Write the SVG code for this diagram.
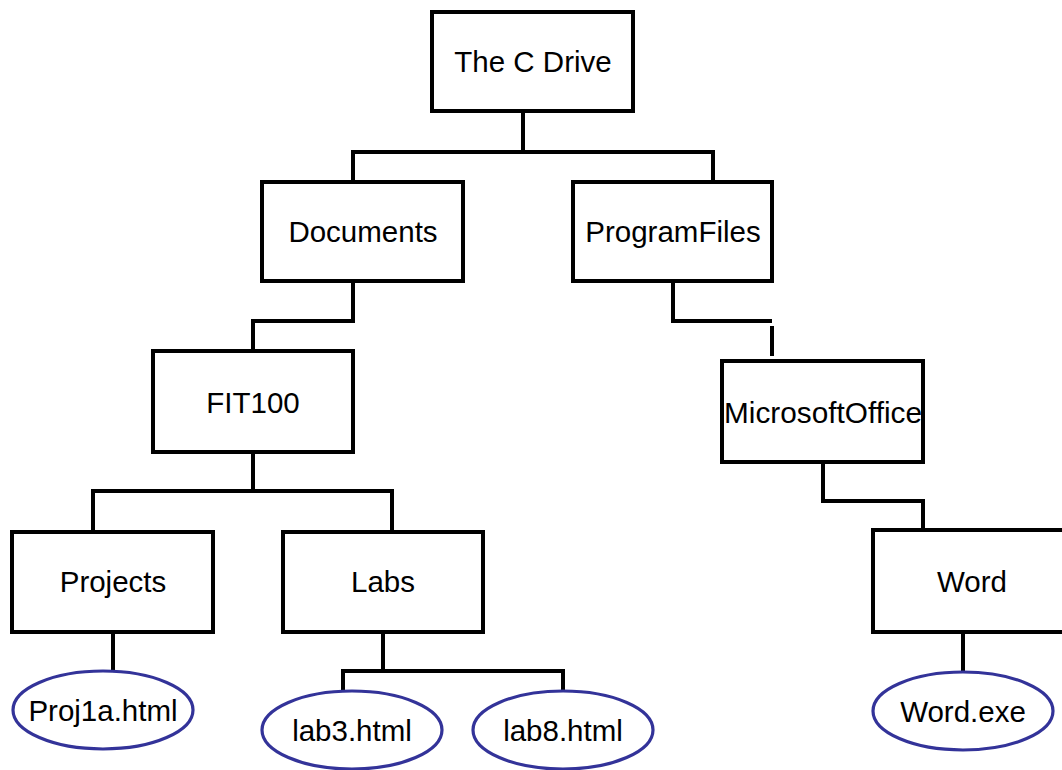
<svg xmlns="http://www.w3.org/2000/svg" width="1062" height="770" viewBox="0 0 1062 770">
<style>
.box{fill:#fff;stroke:#000;stroke-width:4}
.file{fill:#fff;stroke:#333399;stroke-width:3.2}
.lbl{font-family:"Liberation Sans",Arial,sans-serif;font-size:29.5px;fill:#000;text-anchor:middle}
.conn{fill:none;stroke:#000;stroke-width:4;stroke-linejoin:miter}
</style>
<rect width="1062" height="770" fill="#fff"/>
<g id="connectors">
<path class="conn" d="M523,111 V152 M353,182 V152 H713 V182"/>
<path class="conn" d="M353,281 V321 H253 V351"/>
<path class="conn" d="M673,281 V321 H772 M772,326 V356"/>
<path class="conn" d="M253,452 V491 M93,532 V491 H392 V532"/>
<path class="conn" d="M823,462 V501 H923 V530"/>
<path class="conn" d="M113,632 V671"/>
<path class="conn" d="M383,632 V671 M343,691 V671 H563 V691"/>
<path class="conn" d="M963,632 V672"/>
</g>
<g id="cdrive"><rect class="box" x="432" y="12" width="201" height="99"/><text class="lbl" x="533" y="72">The C Drive</text></g>
<g id="documents"><rect class="box" x="262" y="182" width="201" height="99"/><text class="lbl" x="363" y="242">Documents</text></g>
<g id="programfiles"><rect class="box" x="573" y="182" width="199" height="99"/><text class="lbl" x="673" y="242">ProgramFiles</text></g>
<g id="fit100"><rect class="box" x="153" y="351" width="200" height="101"/><text class="lbl" x="253" y="413">FIT100</text></g>
<g id="microsoftoffice"><rect class="box" x="722" y="361" width="201" height="101"/><text class="lbl" x="823" y="423" textLength="198" lengthAdjust="spacingAndGlyphs">MicrosoftOffice</text></g>
<g id="projects"><rect class="box" x="12" y="532" width="201" height="100"/><text class="lbl" x="113" y="592">Projects</text></g>
<g id="labs"><rect class="box" x="283" y="532" width="200" height="100"/><text class="lbl" x="383" y="592">Labs</text></g>
<g id="word"><rect class="box" x="873" y="530" width="200" height="102"/><text class="lbl" x="972" y="592">Word</text></g>
<g id="proj1a"><ellipse class="file" cx="103" cy="710" rx="90" ry="39"/><text class="lbl" x="103" y="721">Proj1a.html</text></g>
<g id="lab3"><ellipse class="file" cx="352" cy="730" rx="90" ry="39"/><text class="lbl" x="352" y="741">lab3.html</text></g>
<g id="lab8"><ellipse class="file" cx="563" cy="730" rx="90" ry="39"/><text class="lbl" x="563" y="741">lab8.html</text></g>
<g id="wordexe"><ellipse class="file" cx="963" cy="711" rx="90" ry="39"/><text class="lbl" x="963" y="722">Word.exe</text></g>
</svg>
